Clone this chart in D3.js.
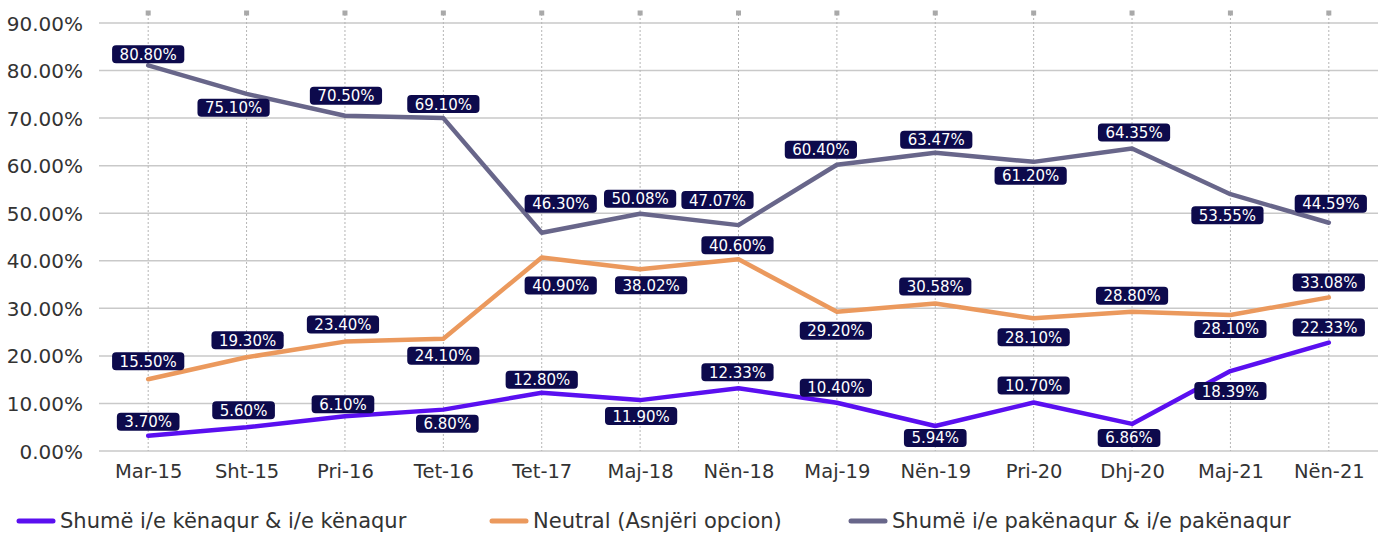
<!DOCTYPE html>
<html>
<head>
<meta charset="utf-8">
<script src="https://cdn.jsdelivr.net/npm/d3@7"></script>
<style>
  html, body { margin: 0; padding: 0; background: #fff; }
  #chart { width: 1384px; height: 535px; }
</style>
</head>
<body>
<div id="chart"></div>
<script>
// Kategorite (periudhat e vrojtimit)
const categories = ["Mar-15", "Sht-15", "Pri-16", "Tet-16", "Tet-17", "Maj-18", "Nën-18",
                    "Maj-19", "Nën-19", "Pri-20", "Dhj-20", "Maj-21", "Nën-21"];

// Vlerat e serive (lexuar nga vija)
const satisfied   = [3.2, 5.0, 7.3, 8.7, 12.25, 10.7, 13.2, 10.15, 5.25, 10.2, 5.7, 16.8, 22.8];
const neutral     = [15.1, 19.7, 23.0, 23.6, 40.7, 38.2, 40.3, 29.3, 31.0, 27.9, 29.3, 28.6, 32.3];
const unsatisfied = [81.1, 75.1, 70.5, 70.0, 45.9, 49.9, 47.5, 60.2, 62.7, 60.8, 63.6, 54.0, 48.0];

// Etiketat e vlerave
const satisfiedLabels   = ["3.70%", "5.60%", "6.10%", "6.80%", "12.80%", "11.90%", "12.33%",
                           "10.40%", "5.94%", "10.70%", "6.86%", "18.39%", "22.33%"];
const neutralLabels     = ["15.50%", "19.30%", "23.40%", "24.10%", "40.90%", "38.02%", "40.60%",
                           "29.20%", "30.58%", "28.10%", "28.80%", "28.10%", "33.08%"];
const unsatisfiedLabels = ["80.80%", "75.10%", "70.50%", "69.10%", "46.30%", "50.08%", "47.07%",
                           "60.40%", "63.47%", "61.20%", "64.35%", "53.55%", "44.59%"];

// Ticks te boshtit Y
const yTicks = [0, 10, 20, 30, 40, 50, 60, 70, 80, 90];

// Pozicioni i etiketave kundrejt pikes [dx, dy]
const satisfiedOffsets   = [[0,-14],[-3,-17],[-2,-12],[4,14],[0,-13],[1,16],[-1,-16],[-1,-15],[0,12],[0,-17],[-3,14],[0,20],[0,-15]];
const neutralOffsets     = [[0,-18],[1,-17],[-2,-17],[0,17],[19,28],[11,16],[-1,-14],[-1,19],[0,-17],[0,19],[0,-16],[0,14],[0,-15]];
const unsatisfiedOffsets = [[0,-11],[-13,14],[1,-20],[0,-14],[19,-29],[0,-15],[-21,-25],[-16,-15],[1,-13],[-3,14],[2,-16],[-3,21],[2,-19]];

const width = 1384, height = 535;
const plot = { left: 99, right: 1378, top: 23, bottom: 451 };
const font = "'DejaVu Sans', sans-serif";

const colors = {
  satisfied: "#5a0ff0",
  neutral: "#eb995d",
  unsatisfied: "#68668a",
  label: "#0d0a4c",
  grid: "#c9c9c9",
  vgrid: "#b5b5b5",
  text: "#333333"
};

const series = [
  { name: "Shumë i/e kënaqur & i/e kënaqur", values: satisfied, labels: satisfiedLabels, offsets: satisfiedOffsets, color: colors.satisfied },
  { name: "Neutral (Asnjëri opcion)", values: neutral, labels: neutralLabels, offsets: neutralOffsets, color: colors.neutral },
  { name: "Shumë i/e pakënaqur & i/e pakënaqur", values: unsatisfied, labels: unsatisfiedLabels, offsets: unsatisfiedOffsets, color: colors.unsatisfied }
];

const svg = d3.select("#chart").append("svg")
  .attr("width", width)
  .attr("height", height)
  .style("font-family", font);

const x = d3.scalePoint()
  .domain(categories)
  .range([plot.left, plot.right])
  .padding(0.5);

const y = d3.scaleLinear()
  .domain([0, 90])
  .range([plot.bottom, plot.top]);

// Vijat horizontale
svg.append("g")
  .selectAll("line")
  .data(yTicks)
  .join("line")
  .attr("x1", plot.left)
  .attr("x2", plot.right)
  .attr("y1", d => y(d))
  .attr("y2", d => y(d))
  .style("stroke", colors.grid)
  .style("stroke-width", 1.5);

// Vijat vertikale me pika + katroret lart
const vg = svg.append("g");
vg.selectAll("line")
  .data(categories)
  .join("line")
  .attr("x1", d => x(d))
  .attr("x2", d => x(d))
  .attr("y1", 14)
  .attr("y2", plot.bottom)
  .style("stroke", colors.vgrid)
  .style("stroke-width", 1)
  .style("stroke-dasharray", "2,2");

vg.selectAll("rect")
  .data(categories)
  .join("rect")
  .attr("x", d => x(d) - 2.5)
  .attr("y", 10.5)
  .attr("width", 5)
  .attr("height", 5)
  .style("fill", "#a9a9a9");

// Boshti Y
const yAxis = svg.append("g")
  .attr("transform", `translate(${plot.left - 13},0)`)
  .call(d3.axisLeft(y).tickValues(yTicks).tickSize(0).tickFormat(d => d.toFixed(2) + "%"));
yAxis.select(".domain").remove();
yAxis.selectAll("text")
  .style("font-family", font)
  .style("font-size", "20px")
  .style("fill", colors.text)
  .attr("dy", "0.35em");

// Boshti X
const xAxis = svg.append("g")
  .attr("transform", `translate(0,${plot.bottom + 7})`)
  .call(d3.axisBottom(x).tickSize(0));
xAxis.select(".domain").remove();
xAxis.selectAll("text")
  .style("font-family", font)
  .style("font-size", "19.5px")
  .style("fill", colors.text)
  .attr("dy", "0.85em");

// Vijat e serive
const line = d3.line()
  .x((d, i) => x(categories[i]))
  .y(d => y(d));

svg.append("g")
  .selectAll("path")
  .data(series)
  .join("path")
  .attr("d", d => line(d.values))
  .style("fill", "none")
  .style("stroke", d => d.color)
  .style("stroke-width", 4.5)
  .style("stroke-linejoin", "round")
  .style("stroke-linecap", "round");

// Etiketat e vlerave
const labelGroup = svg.append("g");
series.forEach(s => {
  s.values.forEach((v, i) => {
    const cx = x(categories[i]) + s.offsets[i][0];
    const cy = y(v) + s.offsets[i][1];
    const g = labelGroup.append("g").attr("transform", `translate(${cx},${cy})`);
    const t = g.append("text")
      .attr("text-anchor", "middle")
      .attr("dy", "0.36em")
      .style("font-size", "15px")
      .style("fill", "#ffffff")
      .text(s.labels[i]);
    const w = t.node().getComputedTextLength() + 15;
    g.insert("rect", "text")
      .attr("x", -w / 2)
      .attr("y", -9)
      .attr("width", w)
      .attr("height", 18)
      .attr("rx", 4)
      .style("fill", colors.label);
  });
});

// Legjenda
const legendItems = [
  { x: 17, s: series[0] },
  { x: 490, s: series[1] },
  { x: 849, s: series[2] }
];
const legend = svg.append("g").attr("transform", "translate(0,521)");
legendItems.forEach(item => {
  legend.append("line")
    .attr("x1", item.x + 2)
    .attr("x2", item.x + 36)
    .attr("y1", 0)
    .attr("y2", 0)
    .style("stroke", item.s.color)
    .style("stroke-width", 5)
    .style("stroke-linecap", "round");
  legend.append("text")
    .attr("x", item.x + 43)
    .attr("dy", "0.35em")
    .style("font-size", "21px")
    .style("fill", colors.text)
    .text(item.s.name);
});
</script>
</body>
</html>
